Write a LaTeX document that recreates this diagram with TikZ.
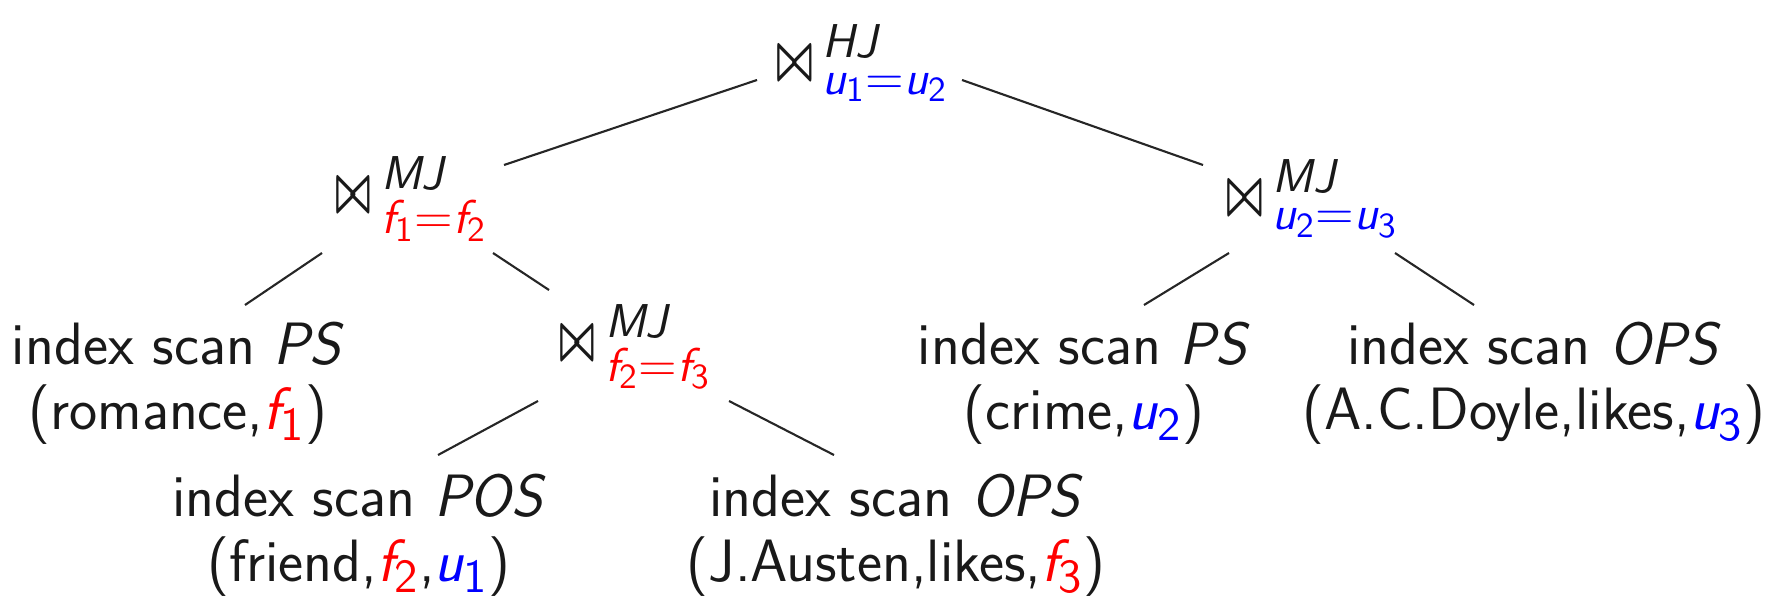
\documentclass[tikz,border=0pt]{standalone}
\usepackage{amsmath}
\usepackage{fontspec}
\usetikzlibrary{calc}
\renewcommand{\familydefault}{\sfdefault}
\DeclareMathSizes{17}{17}{13.5}{10}
\newcommand{\vi}[2]{\textit{#1}_{\text{#2}}}
\newcommand{\rv}[2]{\textcolor{red}{\vi{#1}{#2}}}
\newcommand{\bv}[2]{\textcolor{blue}{\vi{#1}{#2}}}
\newcommand{\jn}{{\scalebox{0.62}[1.1]{$\boldsymbol{\bowtie}$}\,}}
\begin{document}
\begin{tikzpicture}[x=0.01cm,y=-0.01cm,
  lbl/.style={align=center,inner sep=0pt,font=\fontsize{17}{18.5}\selectfont\sffamily,text=black!90},
  edge/.style={draw=black!85,line width=0.6pt}]
\useasboundingbox (0,0) rectangle (1785,600);
\node[lbl] (root) at (863,63) {$\jn^{\textit{HJ}}_{\textcolor{blue}{\vi{u}{1}=\vi{u}{2}}}$};
\node[lbl] (left) at (412,199) {$\jn^{\textit{MJ}}_{\textcolor{red}{\vi{f}{1}=\vi{f}{2}}}$};
\node[lbl] (right) at (1313,199) {$\jn^{\textit{MJ}}_{\textcolor{blue}{\vi{u}{2}=\vi{u}{3}}}$};
\node[lbl] (mj2) at (636,347) {$\jn^{\textit{MJ}}_{\textcolor{red}{\vi{f}{2}=\vi{f}{3}}}$};
\node[lbl] (ps1) at (178,383) {index scan \textit{PS}\\(romance,$\rv{f}{1}$)};
\node[lbl] (crime) at (1084,383) {index scan \textit{PS}\\(crime,$\bv{u}{2}$)};
\node[lbl] (doyle) at (1534,383) {index scan \textit{OPS}\\(A.C.Doyle,likes,$\bv{u}{3}$)};
\node[lbl] (pos) at (359,535) {index scan \textit{POS}\\(friend,$\rv{f}{2}$,$\bv{u}{1}$)};
\node[lbl] (austen) at (896,535) {index scan \textit{OPS}\\(J.Austen,likes,$\rv{f}{3}$)};
\draw[edge] ([shift={(-106,17)}]root.center) -- ([shift={(92,-34)}]left.center);
\draw[edge] ([shift={(99,17)}]root.center) -- ([shift={(-110,-34)}]right.center);
\draw[edge] ([shift={(-90,54)}]left.center) -- ([shift={(67,-78)}]ps1.center);
\draw[edge] ([shift={(81,54)}]left.center) -- ([shift={(-87,-57)}]mj2.center);
\draw[edge] ([shift={(-84,54)}]right.center) -- ([shift={(60,-78)}]crime.center);
\draw[edge] ([shift={(82,54)}]right.center) -- ([shift={(-60,-78)}]doyle.center);
\draw[edge] ([shift={(-98,54)}]mj2.center) -- ([shift={(79,-80)}]pos.center);
\draw[edge] ([shift={(93,54)}]mj2.center) -- ([shift={(-62,-80)}]austen.center);
\end{tikzpicture}
\end{document}
